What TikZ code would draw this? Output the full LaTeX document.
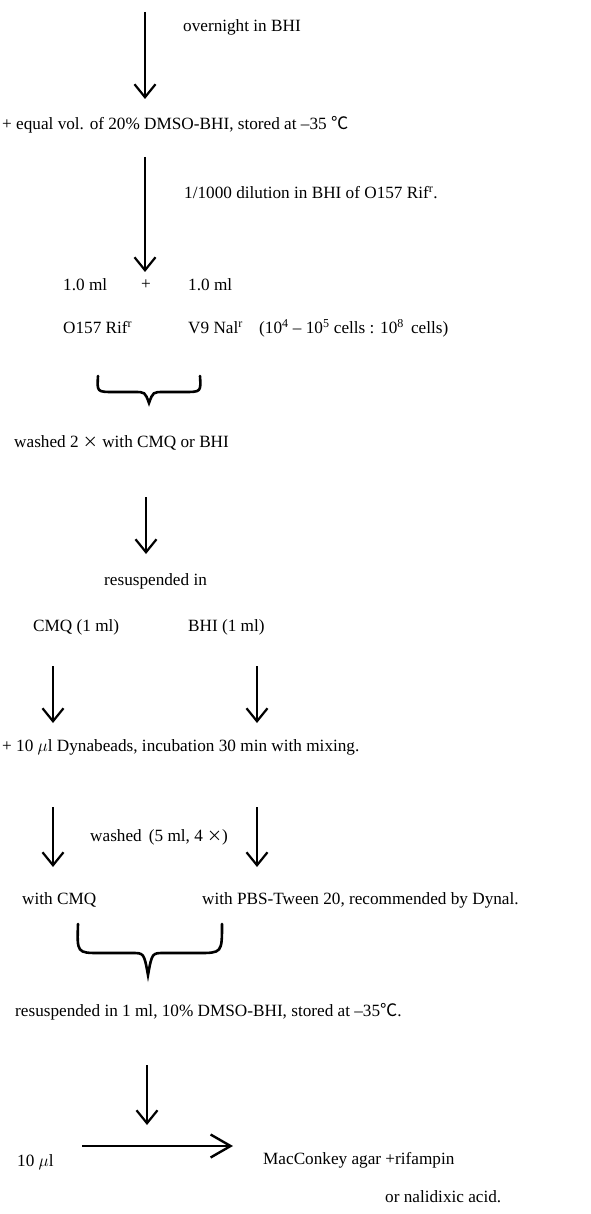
\documentclass[tikz,border=0pt]{standalone}
\usepackage{fontspec}
\setmainfont{Liberation Serif}
\newfontfamily\cjkfont{Noto Sans CJK JP}
\usetikzlibrary{arrows.meta}
\tikzset{
  txt/.style={anchor=west, inner sep=0pt, font=\fontsize{17.2}{19}\selectfont},
  flow/.style={line width=2.2pt, -{Straight Barb[length=13pt,width=21pt,line width=2.2pt]}},
  hflow/.style={line width=2.4pt, -{Straight Barb[length=20pt,width=23pt,line width=2.4pt]}},
  bracket/.style={line width=2.6pt, line cap=round}
}
\newcommand{\degC}{{\cjkfont ℃}}
\newcommand{\timesx}{{\cjkfont\fontsize{15}{17}\selectfont ×}}
\begin{document}
\begin{tikzpicture}[x=1pt,y=-1pt]
\useasboundingbox (0,0) rectangle (590,1214);
% texts
\node[txt] (t1) at (183,27) {overnight in BHI};
\node[txt] (t2) at (2,125) {+ equal vol. of 20\% DMSO-BHI, stored at –35 \degC};
\node[txt] (t3) at (184,193) {1/1000 dilution in BHI of O157 Rif\textsuperscript{r}.};
\node[txt] (v1) at (63,285) {1.0 ml};
\node[txt, anchor=center] (plus) at (146,285) {+};
\node[txt] (v2) at (188,285) {1.0 ml};
\node[txt] (s1) at (63,328) {O157 Rif\textsuperscript{r}};
\node[txt] (s2) at (188,328) {V9 Nal\textsuperscript{r}};
\node[txt] (ratio) at (259,328) {(10\textsuperscript{4} – 10\textsuperscript{5} cells : 10\textsuperscript{8}\, cells)};
\node[txt] (w1) at (14,443) {washed 2 \timesx\ with CMQ or BHI};
\node[txt] (rs) at (104,581) {resuspended in};
\node[txt] (cmq) at (33,627) {CMQ (1 ml)};
\node[txt] (bhi) at (188,627) {BHI (1 ml)};
\node[txt] (dyn) at (2,747) {+ 10 $\mu$l Dynabeads, incubation 30 min with mixing.};
\node[txt] (w2) at (90,837) {washed\, (5 ml, 4 \timesx)};
\node[txt] (wc) at (22,900) {with CMQ};
\node[txt] (wp) at (202,900) {with PBS-Tween 20, recommended by Dynal.};
\node[txt] (rs2) at (15,1012) {resuspended in 1 ml, 10\% DMSO-BHI, stored at –35\degC.};
\node[txt] (ten) at (17,1162) {10 $\mu$l};
\node[txt] (mac) at (263,1160) {MacConkey agar +rifampin};
\node[txt] (nal) at (385,1197) {or nalidixic acid.};
% arrow end points
\coordinate (a1s) at (145,12);   \coordinate (a1e) at (145,99);
\coordinate (a2s) at (145,157);  \coordinate (a2e) at (145,272);
\coordinate (a3s) at (146,497);  \coordinate (a3e) at (146,554);
\coordinate (a4s) at (53,666);   \coordinate (a4e) at (53,723);
\coordinate (b4s) at (257,666);  \coordinate (b4e) at (257,723);
\coordinate (a5s) at (53,807);   \coordinate (a5e) at (53,867);
\coordinate (b5s) at (257,807);  \coordinate (b5e) at (257,867);
\coordinate (a6s) at (147,1065); \coordinate (a6e) at (147,1125);
\coordinate (hs) at (82,1146);   \coordinate (he) at (233,1146);
\draw[flow] (a1s) -- (a1e);
\draw[flow] (a2s) -- (a2e);
\draw[flow] (a3s) -- (a3e);
\draw[flow] (a4s) -- (a4e);
\draw[flow] (b4s) -- (b4e);
\draw[flow] (a5s) -- (a5e);
\draw[flow] (b5s) -- (b5e);
\draw[flow] (a6s) -- (a6e);
\draw[hflow] (hs) -- (he);
% braces
\draw[bracket] (98,376) .. controls (97,392) .. (114,392) -- (134,392)
  .. controls (145,392) .. (149,403) .. controls (153,392) .. (164,392)
  -- (184,392) .. controls (201,392) .. (200,376);
\draw[bracket] (78,924) .. controls (77,953) .. (100,953) -- (132,953)
  .. controls (144,953) .. (148,975) .. controls (152,953) .. (164,953)
  -- (198,953) .. controls (222,953) .. (222,924);
\end{tikzpicture}
\end{document}
